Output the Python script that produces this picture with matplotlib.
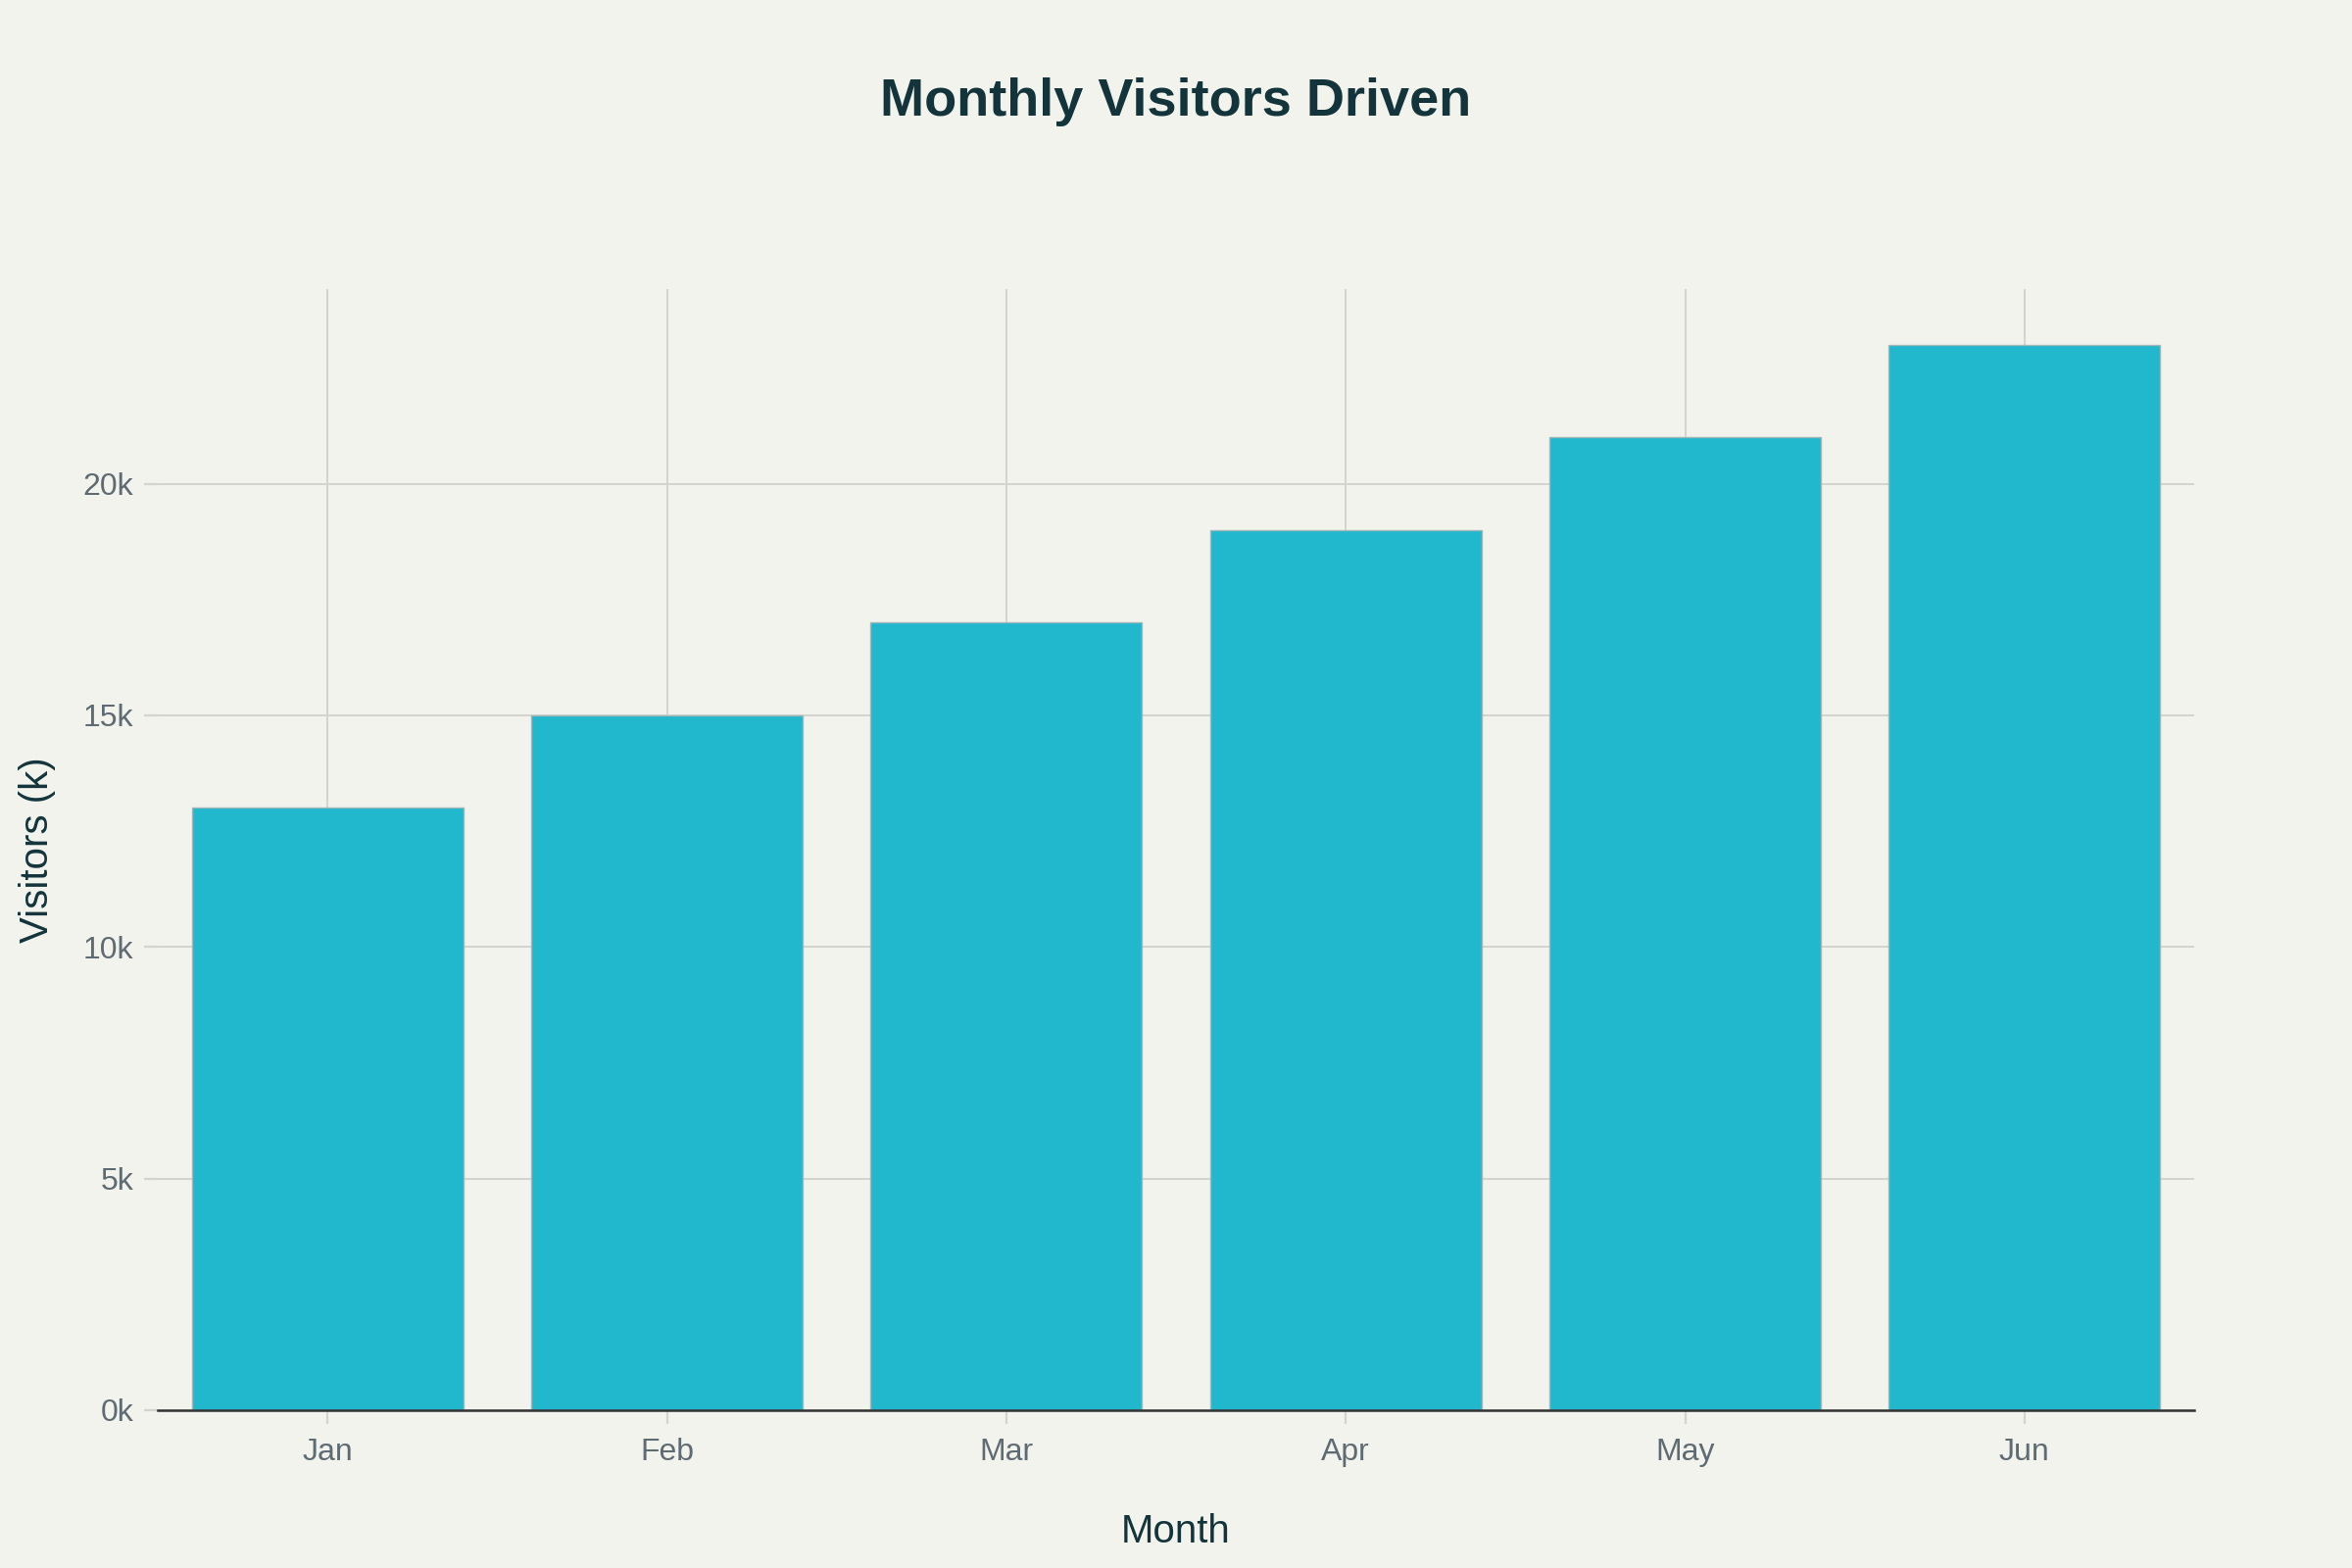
import matplotlib
matplotlib.use("Agg")
import matplotlib.pyplot as plt
from matplotlib.ticker import FuncFormatter

months = ["Jan", "Feb", "Mar", "Apr", "May", "Jun"]
visitors = [13000, 15000, 17000, 19000, 21000, 23000]
y_ticks = [0, 5000, 10000, 15000, 20000]

bg = "#f3f3ee"
bar_color = "#21b7cc"
dark = "#13343b"
tick_gray = "#5f6b73"
grid_gray = "#d5d3cd"

plt.rcParams["font.family"] = ["Liberation Sans", "DejaVu Sans"]

fig = plt.figure(figsize=(12, 8), dpi=200, facecolor=bg)
ax = fig.add_axes([161 / 2400, 1 - 1439 / 1600, (2239 - 161) / 2400, (1439 - 295) / 1600])
ax.set_facecolor(bg)

x = list(range(len(months)))
ax.bar(x, visitors, width=0.8, color=bar_color, edgecolor="#9fb6ba", linewidth=0.5, zorder=3)

ax.set_xlim(-0.5, len(months) - 0.5)
ax.set_ylim(0, 24200)
ax.set_xticks(x)
ax.set_xticklabels(months)
ax.set_yticks(y_ticks)
ax.yaxis.set_major_formatter(FuncFormatter(lambda v, p: "{}k".format(int(v / 1000))))

ax.grid(True, color=grid_gray, linewidth=0.7, zorder=0)
for s in ["top", "right", "left"]:
    ax.spines[s].set_visible(False)
ax.spines["bottom"].set_color("#333333")
ax.spines["bottom"].set_linewidth(0.9)
ax.spines["bottom"].set_zorder(4)

ax.tick_params(axis="x", colors=grid_gray, labelcolor=tick_gray, labelsize=11.5,
               length=5, width=0.8, pad=5, direction="out")
ax.tick_params(axis="y", colors=grid_gray, labelcolor=tick_gray, labelsize=11.5,
               length=5, width=0.8, pad=4)

ax.set_xlabel("Month", fontsize=14.5, color=dark, labelpad=17)
ax.set_ylabel("Visitors (k)", fontsize=14.5, color=dark, labelpad=10)
fig.text(0.5, 1 - 104 / 1600, "Monthly Visitors Driven", ha="center", va="center",
         fontsize=19.5, fontweight="bold", color=dark)

fig.savefig("out.png", dpi=200, facecolor=bg)
